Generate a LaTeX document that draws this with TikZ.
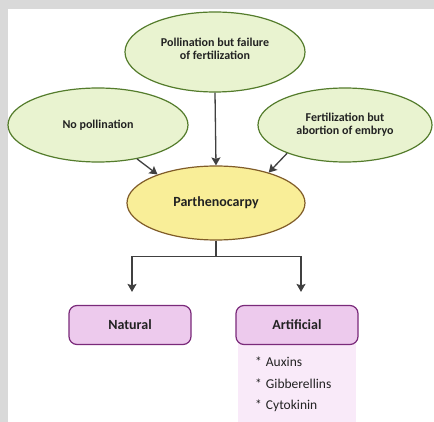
\documentclass[tikz,border=0pt]{standalone}
\usepackage{fontspec}
\setmainfont{Carlito}
\usepackage{xcolor}
\usetikzlibrary{arrows.meta, calc, shapes.geometric, positioning}

\definecolor{causefill}{RGB}{233,243,208}
\definecolor{causeline}{RGB}{84,124,44}
\definecolor{mainfill}{RGB}{249,238,152}
\definecolor{mainline}{RGB}{128,92,40}
\definecolor{typefill}{RGB}{237,202,237}
\definecolor{typeline}{RGB}{122,42,122}
\definecolor{listfill}{RGB}{249,234,249}
\definecolor{linkgray}{RGB}{64,64,64}
\definecolor{textgray}{RGB}{34,34,34}

\tikzset{
    cause/.style={ellipse, draw=causeline, fill=causefill, line width=1.2pt, inner sep=0pt,
        align=center, font=\bfseries\fontsize{12}{13}\selectfont, text=textgray},
    mainbox/.style={ellipse, draw=mainline, fill=mainfill, line width=1.2pt, inner sep=0pt,
        minimum width=178pt, minimum height=74pt, font=\bfseries\fontsize{14}{15}\selectfont, text=textgray},
    typebox/.style={rectangle, rounded corners=8pt, draw=typeline, fill=typefill, line width=1.2pt,
        minimum width=122pt, minimum height=39pt, font=\bfseries\fontsize{14}{15}\selectfont, text=textgray},
    item/.style={anchor=west, inner sep=0pt, font=\fontsize{13.5}{15}\selectfont, text=textgray},
    link/.style={draw=linkgray, line width=1.3pt, -{Stealth[length=8pt,width=9pt,inset=1.5pt]}}
}

\begin{document}
\begin{tikzpicture}[x=1pt, y=-1pt]
    \useasboundingbox (0,0) rectangle (434,422);
    \fill[gray!30] (0,0) rectangle (434,422);
    \fill[white] (8,9.5) rectangle (434,422);

    % causes
    \node[cause, minimum width=180pt, minimum height=80pt] (failfert) at (215,52) {Pollination but failure\\of fertilization\\[-6pt]};
    \node[cause, minimum width=180pt, minimum height=74pt] (nopoll) at (98,125) {No pollination};
    \node[cause, minimum width=174pt, minimum height=74pt] (abort) at (345,125) {Fertilization but\\abortion of embryo};
    \node[mainbox] (parth) at (216,203) {Parthenocarpy};

    \draw[link] (nopoll.-41) -- (parth.154);
    \draw[link] (failfert.south) -- (parth.north);
    \draw[link] (abort.206) -- (parth.30);

    % types
    \fill[listfill] (238,340) rectangle (356,422);
    \node[typebox] (natural) at (130,325) {Natural};
    \node[typebox] (artificial) at (297,325) {Artificial};

    \draw[link, shorten >=13pt] (parth.south) -- ++(0,16) coordinate (split) -| ([xshift=2pt]natural.north);
    \draw[link, shorten >=13pt] (split) -| ([xshift=4pt]artificial.north);

    \foreach \hormone [count=\i] in {Auxins, Gibberellins, Cytokinin} {
        \node[item] (hormone\i) at (255,340+22*\i) {*\hspace{4pt}\hormone};
    }
\end{tikzpicture}
\end{document}
